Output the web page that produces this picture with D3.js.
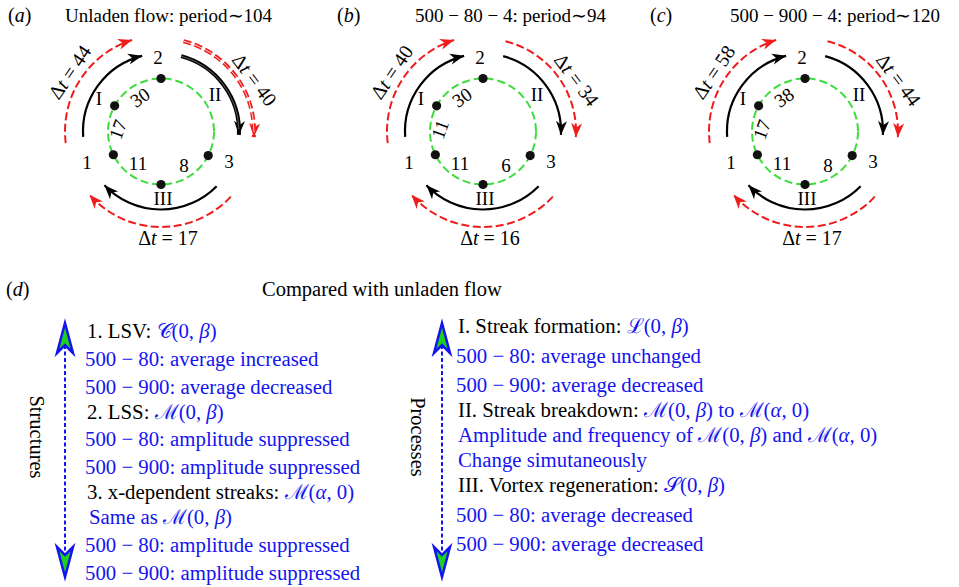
<!DOCTYPE html>
<html><head><meta charset="utf-8">
<script src="https://cdn.jsdelivr.net/npm/d3@7"></script>
<style>
body{margin:0;background:#fff;}
svg text{font-family:"Liberation Serif","Times New Roman",serif;}
</style></head>
<body><svg id="c" width="959" height="587" font-family="Liberation Serif, Times New Roman, serif"></svg>
<script>
// ---------- data ----------
const panelLetters = ["a", "b", "c"];
const panelTitles = ["Unladen flow: period\u223C104", "500 \u2212 80 \u2212 4: period\u223C94", "500 \u2212 900 \u2212 4: period\u223C120"];
const dtFormation = [44, 40, 58];     // 1 -> 2
const dtBreakdown = [40, 34, 44];     // 2 -> 3
const dtRegeneration = [17, 16, 17];  // 3 -> 1
const seg1toI = [17, 11, 17];
const segIto2 = [30, 30, 38];
const seg3toIII = [8, 6, 8];
const segIIIto1 = [11, 11, 11];
const nodeNames = ["1", "I", "2", "3", "III"];
const phaseLabels = ["I", "II", "III"];
const numberLabels = ["1", "2", "3"];
const sectionTitle = "Compared with unladen flow";
const structureLines = [
  "1. LSV: [\u{1D49E}(0, *\u03B2*)]",
  "[500 \u2212 80: average increased]",
  "[500 \u2212 900: average decreased]",
  "2. LSS: [\u2133(0, *\u03B2*)]",
  "[500 \u2212 80: amplitude suppressed]",
  "[500 \u2212 900: amplitude suppressed]",
  "3. x-dependent streaks: [\u2133(*\u03B1*, 0)]",
  "[Same as \u2133(0, *\u03B2*)]",
  "[500 \u2212 80: amplitude suppressed]",
  "[500 \u2212 900: amplitude suppressed]"
];
const processLines = [
  "I. Streak formation: [\u2112(0, *\u03B2*)]",
  "[500 \u2212 80: average unchanged]",
  "[500 \u2212 900: average decreased]",
  "II. Streak breakdown: [\u2133(0, *\u03B2*) to \u2133(*\u03B1*, 0)]",
  "[Amplitude and frequency of \u2133(0, *\u03B2*) and \u2133(*\u03B1*, 0)]",
  "[Change simutaneously]",
  "III. Vortex regeneration: [\u{1D4AE}(0, *\u03B2*)]",
  "[500 \u2212 80: average decreased]",
  "[500 \u2212 900: average decreased]"
];

// ---------- setup ----------
const svg = d3.select("#c");
const BLUE = "#1414f0", RED = "#f01c1c", GREEN = "#3ddc3d";
const defs = svg.append("defs");
function marker(id, color) {
  defs.append("marker").attr("id", id).attr("viewBox", "-15 -7 16 14")
    .attr("refX", 0).attr("refY", 0).attr("markerWidth", 16).attr("markerHeight", 14)
    .attr("markerUnits", "userSpaceOnUse").attr("orient", "auto")
    .append("path").attr("d", "M0,0 L-14,-5.5 L-10,0 L-14,5.5 Z").attr("fill", color);
}
marker("mk", "#000");
marker("mr", RED);

// rich text: [..] blue, *..* italic
function rich(sel, str, baseColor) {
  let blue = false, ital = false, buf = "";
  const flush = () => {
    if (!buf) return;
    sel.append("tspan").text(buf)
      .attr("fill", blue ? BLUE : baseColor)
      .attr("font-style", ital ? "italic" : null);
    buf = "";
  };
  for (const ch of str) {
    if (ch === "[") { flush(); blue = true; }
    else if (ch === "]") { flush(); blue = false; }
    else if (ch === "*") { flush(); ital = !ital; }
    else buf += ch;
  }
  flush();
}

// angle scale: degrees clockwise from top -> radians
const ang = d3.scaleLinear().domain([0, 360]).range([0, 2 * Math.PI]);
const nodeAngle = d3.scaleOrdinal().domain(nodeNames).range([244, 299, 0, 117, 180]);
const panelX = d3.scaleLinear().domain([0, 2]).range([161, 805]);
const CY = 131.5, RG = 53, RB = 78;

function pt(cx, r, deg) { const a = ang(deg); return [cx + r * Math.sin(a), CY - r * Math.cos(a)]; }
function arcPath(cx, r, d0, d1) {
  const p = d3.path();
  const s = pt(cx, r, d0);
  p.moveTo(s[0], s[1]);
  p.arc(cx, CY, r, ang(d0) - Math.PI / 2, ang(d1) - Math.PI / 2, false);
  return p.toString();
}

panelLetters.forEach((L, i) => {
  const cx = panelX(i);
  const g = svg.append("g");
  // panel letter and title
  const lt = g.append("text").attr("x", [8, 337, 650][i]).attr("y", 22).attr("font-size", 20);
  rich(lt, "(*" + L + "*)", "#000");
  g.append("text").attr("x", [65, 415, 730][i]).attr("y", 22).attr("font-size", 19).text(panelTitles[i]);

  // green circle
  g.append("circle").attr("cx", cx).attr("cy", CY).attr("r", RG)
    .attr("fill", "none").attr("stroke", GREEN).attr("stroke-width", 2).attr("stroke-dasharray", "8,4");

  // arcs: [start, end] angles for black and red
  const arcs = [
    { b: [266, 346], r: [263, 342.5], rr: 96 },
    { b: [15, 92.5], r: [14, 93.5], rr: 93 },
    { b: [134.5, 226.5], r: [133, 228.5], rr: 95.5 }
  ];
  arcs.forEach((a, k) => {
    const thick = (i === 0 && k === 1);
    g.append("path").attr("d", arcPath(cx, a.rr, a.r[0], a.r[1]))
      .attr("fill", "none").attr("stroke", RED).attr("stroke-width", thick ? 4 : 2)
      .attr("stroke-dasharray", "8,3.5").attr("marker-end", "url(#mr)");
    if (thick) g.append("path").attr("d", arcPath(cx, a.rr, a.r[0], a.r[1] - 3))
      .attr("fill", "none").attr("stroke", "#fff").attr("stroke-width", 0.8);
    g.append("path").attr("d", arcPath(cx, RB, a.b[0], a.b[1]))
      .attr("fill", "none").attr("stroke", "#000").attr("stroke-width", thick ? 4 : 2.2)
      .attr("marker-end", "url(#mk)");
    if (thick) g.append("path").attr("d", arcPath(cx, RB, a.b[0], a.b[1] - 4))
      .attr("fill", "none").attr("stroke", "#777").attr("stroke-width", 0.8);
  });

  // nodes
  nodeNames.forEach(n => {
    const p = pt(cx, RG, nodeAngle(n));
    g.append("circle").attr("cx", p[0]).attr("cy", p[1]).attr("r", 4.6).attr("fill", "#111");
  });

  // node labels
  const lbl = (txt, dx, dy, fs) => g.append("text").attr("x", cx + dx).attr("y", CY + dy)
    .attr("text-anchor", "middle").attr("dominant-baseline", "central").attr("font-size", fs || 19).text(txt);
  lbl(numberLabels[0], -74, 31);
  lbl(numberLabels[1], -3, -74);
  lbl(numberLabels[2], 68, 30);
  lbl(phaseLabels[0], -62, -33);
  lbl(phaseLabels[1], 54, -37);
  lbl(phaseLabels[2], 2, 67);

  // segment durations
  const seg = (txt, dx, dy, rot) => g.append("text")
    .attr("transform", `translate(${cx + dx},${CY + dy}) rotate(${rot})`)
    .attr("text-anchor", "middle").attr("dominant-baseline", "central").attr("font-size", 19).text(txt);
  seg(segIto2[i], -21, -34, -35);
  seg(seg1toI[i], -43, -2, -70);
  seg(segIIIto1[i], -23, 32, 0);
  seg(seg3toIII[i], 23, 34, 0);

  // Δt labels
  const dt = (v, x, y, rot) => {
    const t = g.append("text").attr("transform", `translate(${x},${y}) rotate(${rot})`)
      .attr("text-anchor", "middle").attr("dominant-baseline", "central").attr("font-size", 20);
    rich(t, "\u0394*t* = " + v, "#000");
  };
  const pl = pt(cx, 109, 303), pr = pt(cx, 107, 61);
  dt(dtFormation[i], pl[0], pl[1], -56);
  dt(dtBreakdown[i], pr[0], pr[1], 53);
  dt(dtRegeneration[i], cx + 7, 238, 0);
});

// ---------- panel d ----------
const FS = 20.8;
const pd = svg.append("text").attr("x", 6).attr("y", 296).attr("font-size", 20);
rich(pd, "(*d*)", "#000");
svg.append("text").attr("x", 262).attr("y", 296).attr("font-size", 20.5).text(sectionTitle);

function column(lines, x0, y0, valueGap, otherGap, arrowX, label, labelX) {
  let y = y0;
  lines.forEach((s, k) => {
    if (k > 0) y += s.startsWith("[500") ? valueGap : otherGap;
    const indent = s.startsWith("[500") ? -2 : (s.startsWith("[Same") ? 2 : 0);
    const t = svg.append("text").attr("x", x0 + indent).attr("y", y).attr("font-size", FS);
    rich(t, s, "#000");
  });
  // double arrow
  svg.append("line").attr("x1", arrowX).attr("x2", arrowX).attr("y1", 345).attr("y2", 556)
    .attr("stroke", BLUE).attr("stroke-width", 2).attr("stroke-dasharray", "4,2.5");
  const head = (tip, dir) => {
    const p = d3.path();
    p.moveTo(arrowX, tip);
    p.lineTo(arrowX - 8, tip + dir * 30);
    p.lineTo(arrowX, tip + dir * 22);
    p.lineTo(arrowX + 8, tip + dir * 30);
    p.closePath();
    svg.append("path").attr("d", p.toString()).attr("fill", "#1ed01e")
      .attr("stroke", BLUE).attr("stroke-width", 2.5).attr("stroke-linejoin", "miter");
  };
  head(323, 1);
  head(577, -1);
  svg.append("text").attr("transform", `translate(${labelX},437) rotate(90)`)
    .attr("text-anchor", "middle").attr("dominant-baseline", "central").attr("font-size", 20.5).text(label);
}
column(structureLines, 87, 338, 27.8, 25, 65, "Structures", 37);
column(processLines, 458, 333, 29.5, 25, 442, "Processes", 418);
</script></body></html>
